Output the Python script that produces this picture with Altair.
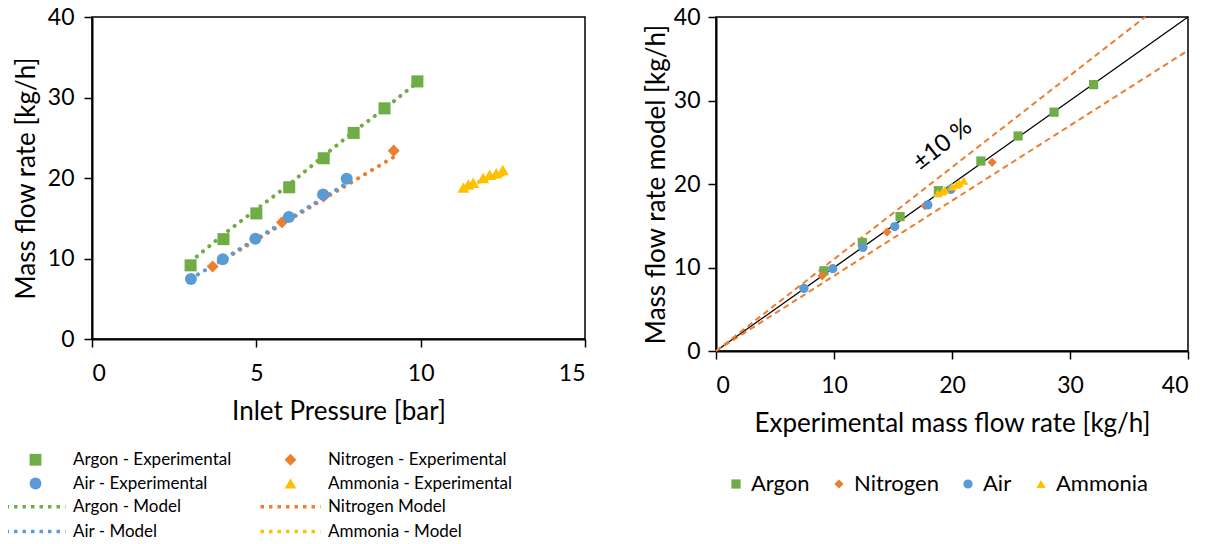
import altair as alt
import pandas as pd

FONT = "Lato"
GREEN, ORANGE, BLUE, YELLOW = "#70AD47", "#ED7D31", "#5B9BD5", "#FFC000"

# ---- data ----
argon_p = [3.0, 4.0, 5.0, 6.0, 7.05, 7.96, 8.9, 9.9]
argon_exp = [9.15, 12.4, 15.6, 18.85, 22.45, 25.6, 28.65, 32.0]
argon_mod = [9.6, 13.0, 16.1, 19.2, 22.75, 25.75, 28.6, 31.9]

nitro_p = [3.67, 5.78, 7.05, 9.18]
nitro_exp = [9.0, 14.5, 17.7, 23.4]
nitro_mod = [9.0, 14.25, 17.4, 22.6]

air_p = [3.01, 3.98, 4.97, 5.99, 7.03, 7.75]
air_exp = [7.45, 9.9, 12.45, 15.15, 17.95, 19.9]
air_mod = [7.5, 9.86, 12.4, 14.9, 17.5, 19.35]

amm_p = [11.3, 11.45, 11.6, 11.9, 12.1, 12.3, 12.5]
amm_exp = [18.8, 19.2, 19.4, 20.0, 20.4, 20.6, 21.0]
amm_mod = [18.9, 19.1, 19.3, 19.7, 19.9, 20.1, 20.4]

gases = ["Argon", "Nitrogen", "Air", "Ammonia"]
exp_names = ["Argon - Experimental", "Nitrogen - Experimental", "Air - Experimental", "Ammonia - Experimental"]
mod_names = ["Argon - Model", "Nitrogen Model", "Air - Model", "Ammonia - Model"]
colors = [GREEN, ORANGE, BLUE, YELLOW]
shapes = ["square", "diamond", "circle", "triangle-up"]

# legend grid is filled column by column: order so rows read Argon|Nitrogen, Air|Ammonia
leg_order = [0, 2, 1, 3]

series = [(argon_p, argon_exp, argon_mod), (nitro_p, nitro_exp, nitro_mod),
          (air_p, air_exp, air_mod), (amm_p, amm_exp, amm_mod)]

rows_pts, rows_mod, rows_r = [], [], []
for g, en, mn, (p, e, m) in zip(gases, exp_names, mod_names, series):
    for pi, ei, mi in zip(p, e, m):
        rows_pts.append({"name": en, "p": pi, "flow": ei})
        rows_mod.append({"name": mn, "p": pi, "flow": mi})
        rows_r.append({"gas": g, "exp": ei, "mod": mi})
df_pts = pd.DataFrame(rows_pts)
df_mod = pd.DataFrame(rows_mod)
df_r = pd.DataFrame(rows_r)

ref_x = [0, 40, 0, 40 / 1.1, 0, 40]
ref_y = [0, 40, 0, 40, 0, 36]
ref_id = ["1:1", "1:1", "+10", "+10", "-10", "-10"]
df_ref = pd.DataFrame({"x": ref_x, "y": ref_y, "id": ref_id})
df_lbl = pd.DataFrame({"x": [19.2], "y": [24.7], "t": ["±10 %"]})

exp_dom = [exp_names[i] for i in leg_order]
mod_dom = [mod_names[i] for i in leg_order]
col_ord = [colors[i] for i in leg_order]
shp_ord = [shapes[i] for i in leg_order]

# ---- left chart ----
lx = alt.X("p:Q", scale=alt.Scale(domain=[0, 15]),
           axis=alt.Axis(values=[0, 5, 10, 15], title="Inlet Pressure [bar]"))
ly = alt.Y("flow:Q", scale=alt.Scale(domain=[0, 40]),
           axis=alt.Axis(values=[0, 10, 20, 30, 40], title="Mass flow rate [kg/h]"))

exp_legend = alt.Legend(title=None, orient="none", legendX=-65, legendY=434, columns=2,
                        columnPadding=50, rowPadding=6, labelOffset=29, labelFontSize=17,
                        labelLimit=400, symbolSize=140, symbolStrokeWidth=0)
mod_legend = alt.Legend(title=None, orient="none", legendX=-65, legendY=481, columns=2,
                        columnPadding=72, rowPadding=7, labelOffset=29, labelFontSize=17,
                        labelLimit=400, symbolType="M-5,0H5", symbolSize=144,
                        symbolStrokeWidth=3.5, symbolDash=[3.5, 5])

models = alt.Chart(df_mod).mark_line(strokeDash=[0.1, 8], strokeCap="round", strokeWidth=4).encode(
    x=lx, y=ly,
    stroke=alt.Stroke("name:N", scale=alt.Scale(domain=mod_dom, range=col_ord), legend=mod_legend),
    detail="name:N",
)
points = alt.Chart(df_pts).mark_point(filled=True, size=145, opacity=1).encode(
    x=lx, y=ly,
    fill=alt.Fill("name:N", scale=alt.Scale(domain=exp_dom, range=col_ord), legend=exp_legend),
    shape=alt.Shape("name:N", scale=alt.Scale(domain=exp_dom, range=shp_ord), legend=exp_legend),
)
left = alt.layer(models, points).properties(width=493, height=322)

# ---- right chart ----
rx = alt.X("exp:Q", scale=alt.Scale(domain=[0, 40]),
           axis=alt.Axis(values=[0, 10, 20, 30, 40], title="Experimental mass flow rate [kg/h]"))
ry = alt.Y("mod:Q", scale=alt.Scale(domain=[0, 40]),
           axis=alt.Axis(values=[0, 10, 20, 30, 40], title="Mass flow rate model [kg/h]",
                         titlePadding=4, labelPadding=8))

one = alt.Chart(df_ref).transform_filter(alt.datum.id == "1:1").mark_line(
    color="black", strokeWidth=1.3).encode(
    x=alt.X("x:Q", scale=alt.Scale(domain=[0, 40])), y=alt.Y("y:Q", scale=alt.Scale(domain=[0, 40])))
band = alt.Chart(df_ref).transform_filter(alt.datum.id != "1:1").mark_line(
    color=ORANGE, strokeWidth=2, strokeDash=[6, 4]).encode(
    x="x:Q", y="y:Q", detail="id:N")
lbl = alt.Chart(df_lbl).mark_text(angle=322, fontSize=24, font=FONT, color="black").encode(
    x="x:Q", y="y:Q", text="t:N")

r_legend = alt.Legend(title=None, orient="none", legendX=9, legendY=456, direction="horizontal",
                      columnPadding=18, labelOffset=4, labelFontSize=22, symbolSize=85,
                      symbolStrokeWidth=0)
rpts = alt.Chart(df_r).mark_point(filled=True, size=85, opacity=1).encode(
    x=rx, y=ry,
    fill=alt.Fill("gas:N", scale=alt.Scale(domain=gases, range=colors), legend=r_legend),
    shape=alt.Shape("gas:N", scale=alt.Scale(domain=gases, range=shapes), legend=r_legend),
)
right = alt.layer(one, band, rpts, lbl).properties(width=472, height=334)

chart = alt.hconcat(left, right, spacing=131, bounds="flush").resolve_scale(
    fill="independent", shape="independent", stroke="independent"
).properties(padding={"left": 4, "top": -3, "right": 0, "bottom": 0}).configure(font=FONT).configure_view(
    stroke="black", strokeWidth=1.5
).configure_axis(
    grid=False, domainColor="black", domainWidth=2, tickColor="black", tickWidth=1.5,
    tickSize=8, labelFontSize=23, labelColor="black", titleFontSize=26,
    titleFontWeight="normal", titleColor="black", labelFont=FONT, titleFont=FONT
).configure_axisX(labelPadding=15, titlePadding=13).configure_axisY(
    labelPadding=10, titlePadding=8
).configure_legend(labelColor="black", labelFont=FONT)

chart.save("out.html", embed_options={"renderer": "svg", "actions": False})
